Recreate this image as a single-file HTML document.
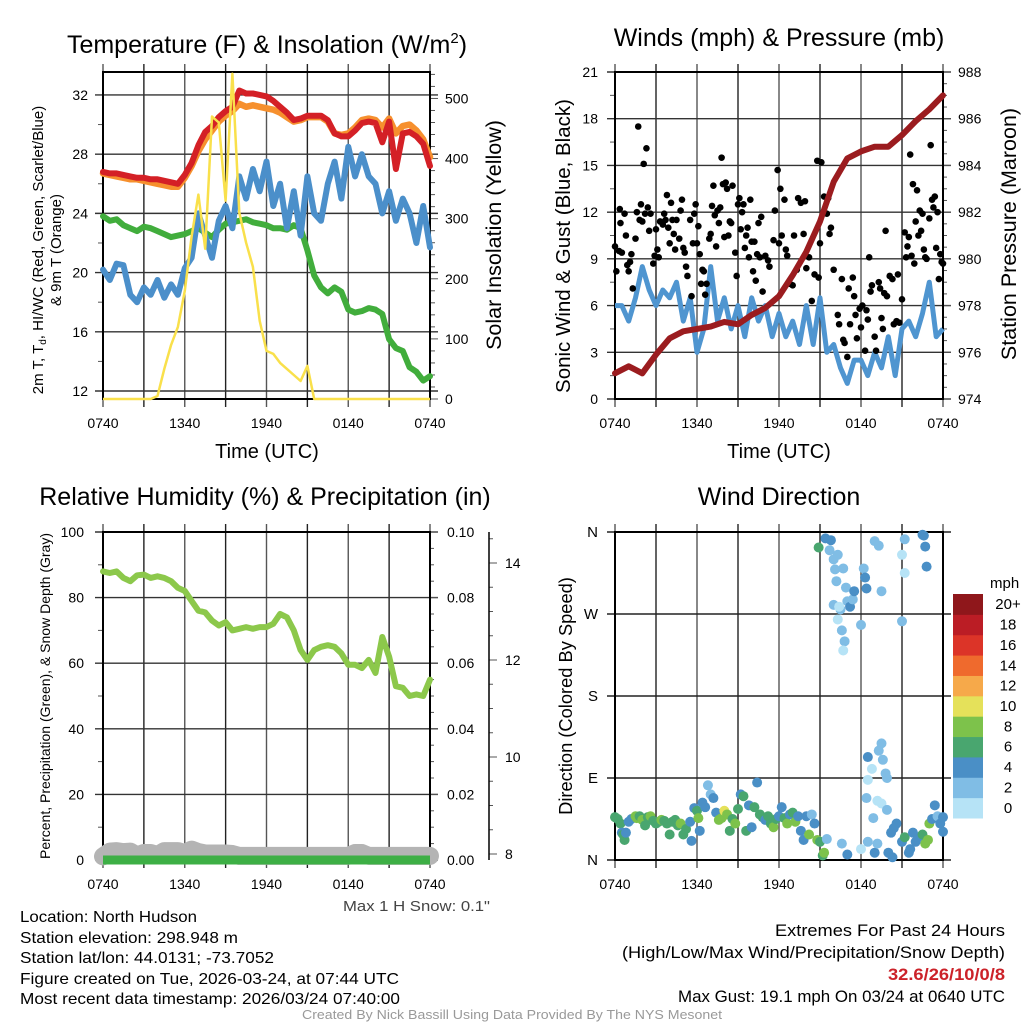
<!DOCTYPE html>
<html><head><meta charset="utf-8">
<style>
html,body{margin:0;padding:0;background:#fff;}
svg{display:block;font-family:"Liberation Sans",sans-serif;}
</style></head>
<body>
<svg id="chart" width="1024" height="1024" viewBox="0 0 1024 1024" xmlns="http://www.w3.org/2000/svg">
<rect x="0" y="0" width="1024" height="1024" fill="#fff"/>
<!-- titles -->
<text x="267" y="53" font-size="25" text-anchor="middle">Temperature (F) &amp; Insolation (W/m<tspan font-size="15" dy="-10">2</tspan><tspan dy="10">)</tspan></text>
<text x="779" y="46" font-size="25" text-anchor="middle">Winds (mph) &amp; Pressure (mb)</text>
<text x="265" y="505" font-size="25" text-anchor="middle">Relative Humidity (%) &amp; Precipitation (in)</text>
<text x="779" y="505" font-size="25" text-anchor="middle">Wind Direction</text>
<!-- x axis titles -->
<text x="267" y="458" font-size="20" text-anchor="middle">Time (UTC)</text>
<text x="779" y="458" font-size="20" text-anchor="middle">Time (UTC)</text>
<!-- y axis titles -->
<text transform="translate(43,250) rotate(-90)" font-size="15" text-anchor="middle">2m T, T<tspan font-size="10" dy="3">d</tspan><tspan dy="-3">, HI/WC (Red, Green, Scarlet/Blue)</tspan></text>
<text transform="translate(61,250) rotate(-90)" font-size="15" text-anchor="middle">&amp; 9m T (Orange)</text>
<text transform="translate(501,235) rotate(-90)" font-size="21.5" text-anchor="middle">Solar Insolation (Yellow)</text>
<text transform="translate(570,246) rotate(-90)" font-size="20.5" text-anchor="middle">Sonic Wind &amp; Gust (Blue, Black)</text>
<text transform="translate(1016,234) rotate(-90)" font-size="21.5" text-anchor="middle">Station Pressure (Maroon)</text>
<text transform="translate(50,696) rotate(-90)" font-size="14" text-anchor="middle">Percent, Precipitation (Green), &amp; Snow Depth (Gray)</text>
<text transform="translate(572,696) rotate(-90)" font-size="18.3" text-anchor="middle">Direction (Colored By Speed)</text>
<!-- footer -->
<text x="343" y="911" font-size="15" fill="#444" textLength="147" lengthAdjust="spacingAndGlyphs">Max 1 H Snow: 0.1"</text>
<g font-size="16">
<text x="20" y="922" textLength="177" lengthAdjust="spacingAndGlyphs">Location: North Hudson</text>
<text x="20" y="943" textLength="218" lengthAdjust="spacingAndGlyphs">Station elevation: 298.948 m</text>
<text x="20" y="963" textLength="254" lengthAdjust="spacingAndGlyphs">Station lat/lon: 44.0131; -73.7052</text>
<text x="20" y="984" textLength="379" lengthAdjust="spacingAndGlyphs">Figure created on Tue, 2026-03-24, at 07:44 UTC</text>
<text x="20" y="1004" textLength="380" lengthAdjust="spacingAndGlyphs">Most recent data timestamp: 2026/03/24 07:40:00</text>
</g>
<g font-size="17">
<text x="775" y="936" textLength="230" lengthAdjust="spacingAndGlyphs">Extremes For Past 24 Hours</text>
<text x="622" y="958" textLength="383" lengthAdjust="spacingAndGlyphs">(High/Low/Max Wind/Precipitation/Snow Depth)</text>
<text x="888" y="980" fill="#cc2229" font-weight="bold" textLength="117" lengthAdjust="spacingAndGlyphs">32.6/26/10/0/8</text>
<text x="678" y="1002" textLength="327" lengthAdjust="spacingAndGlyphs">Max Gust: 19.1 mph On 03/24 at 0640 UTC</text>
</g>
<text x="302" y="1019" font-size="13" fill="#999" textLength="420" lengthAdjust="spacingAndGlyphs">Created By Nick Bassill Using Data Provided By The NYS Mesonet</text>
</svg>
<script>
// ---------- DATA ----------
const timeLabels = ["0740","1340","1940","0140","0740"];
// half-hourly (49 values) temperature series (F)
const tempRed = [26.8,26.7,26.7,26.6,26.5,26.4,26.4,26.3,26.3,26.2,26.1,26.0,26.6,27.4,28.6,29.5,29.9,30.5,30.9,31.2,32.3,32.1,32.1,32.0,31.9,31.6,31.2,30.8,30.3,30.4,30.6,30.6,30.6,30.3,29.4,29.2,29.2,29.6,30.1,30.2,30.1,28.8,30.2,27.0,29.4,29.5,29.2,28.7,27.2];
const tempOrange = [26.7,26.6,26.5,26.4,26.3,26.3,26.2,26.1,26.0,25.9,25.8,25.8,26.4,27.2,28.2,29.0,29.6,30.2,30.6,30.9,31.4,31.2,31.3,31.2,31.1,31.0,30.8,30.5,30.2,30.3,30.5,30.5,30.5,30.2,29.4,29.3,29.4,29.8,30.3,30.4,30.3,29.8,30.4,29.4,29.9,30.0,29.6,29.0,27.8];
const tempBlue = [20.2,19.5,20.6,20.5,18.5,18.0,19.0,18.5,19.5,18.3,19.2,18.5,20.3,21.0,24.0,22.5,21.0,23.5,24.5,23.0,26.5,25.0,27.0,25.5,27.5,24.5,26.0,23.0,25.5,22.5,26.5,24.0,23.5,26.0,27.5,25.0,28.5,26.5,28.0,26.5,26.0,24.0,25.5,23.5,25.0,24.0,22.0,24.5,21.7];
const tempGreen = [23.8,23.5,23.6,23.2,23.0,22.8,23.1,23.0,22.8,22.6,22.4,22.5,22.6,22.8,23.0,22.7,22.4,22.9,23.3,23.4,23.5,23.6,23.4,23.3,23.2,23.0,23.0,22.9,23.2,23.0,21.5,19.8,19.0,18.6,19.0,18.7,17.5,17.3,17.4,17.6,17.5,17.2,15.5,14.9,14.7,13.6,13.3,12.7,13.0];
const solar = [0,0,0,0,0,0,0,0,5,50,90,120,180,270,340,250,470,460,330,541,310,260,220,130,80,75,60,50,40,30,55,0,0,0,0,0,0,0,0,0,0,0,0,0,0,0,0,0,0];
// winds
const windSpeed = [6.0,6.0,5.0,6.5,8.5,7.0,6.0,7.0,6.5,7.5,5.0,6.5,3.0,4.5,8.5,5.0,6.5,4.5,6.0,4.0,6.5,5.0,6.0,4.0,5.5,4.0,5.0,3.5,6.0,3.5,6.5,3.0,3.5,2.0,1.0,2.5,2.5,1.5,3.0,2.0,4.0,1.5,4.5,5.0,4.0,5.5,7.5,4.0,4.5];
const pressure = [975.1,975.4,975.1,975.9,976.6,976.9,977.0,977.1,977.3,977.2,977.6,977.9,978.4,979.3,980.3,981.6,983.3,984.3,984.6,984.8,984.8,985.3,985.9,986.4,987.0];
const gustTimes = [0,0.1,0.3,0.35,0.4,0.5,0.7,0.8,0.9,1.0,1.1,1.2,1.3,1.5,1.6,1.7,1.8,1.9,2.0,2.1,2.2,2.3,2.4,2.5,2.6,2.8,2.9,3.0,3.1,3.2,3.3,3.5,3.6,3.7,3.8,3.9,4.0,4.1,4.2,4.3,4.4,4.5,4.7,4.8,4.9,5.0,5.1,5.2,5.3,5.5,5.6,5.7,5.8,5.9,6.0,6.1,6.2,6.3,6.4,6.5,6.6,6.7,6.9,7.0,7.1,7.2,7.3,7.4,7.5,7.6,7.7,7.8,7.9,8.0,8.1,8.2,8.3,8.4,8.5,8.6,8.8,8.9,9.0,9.1,9.2,9.3,9.4,9.5,9.6,9.7,9.8,9.9,10.0,10.1,10.2,10.3,10.4,10.5,10.6,10.7,10.8,11.0,11.2,11.3,11.6,11.7,11.9,12.0,12.1,12.2,12.4,12.5,12.6,12.8,13.0,13.1,13.3,13.4,13.6,13.8,13.9,14.0,14.2,14.4,14.6,14.8,14.9,15.0,15.1,15.3,15.5,15.6,15.7,15.8,16.0,16.3,16.4,16.6,16.7,16.8,17.0,17.1,17.2,17.4,17.5,17.6,17.7,17.9,18.0,18.1,18.3,18.4,18.5,18.6,18.7,18.8,19.0,19.1,19.3,19.4,19.5,19.6,19.7,19.8,19.9,20.1,20.3,20.4,20.6,20.7,20.8,21.0,21.2,21.3,21.4,21.5,21.6,21.7,21.8,21.9,22.0,22.1,22.2,22.3,22.4,22.5,22.6,22.7,22.8,23.0,23.1,23.2,23.3,23.4,23.5,23.6,23.7,23.8,23.9,24.0];
const gustValues = [9.8,8.2,9.5,12.2,11.3,9.4,11.9,10.5,8.6,8.2,8.8,9.3,7.1,10.3,12.0,17.5,11.5,12.5,11.4,15.1,11.9,16.1,12.3,10.8,11.9,8.7,9.2,10.9,9.6,9.1,11.4,11.2,11.9,11.5,13.1,11.0,10.0,12.6,11.5,10.6,9.6,11.5,10.3,12.1,12.8,9.7,9.4,8.5,7.9,11.5,6.6,10.0,11.9,12.5,10.0,11.1,9.3,7.4,8.3,8.2,6.7,7.4,10.3,10.6,12.4,13.7,11.8,9.8,12.1,11.3,12.3,15.5,13.8,10.4,13.9,13.5,10.5,11.4,11.3,13.7,9.4,7.9,12.5,12.9,10.9,12.0,12.5,9.7,10.5,11.0,9.1,12.8,10.1,8.2,10.1,7.6,9.3,11.3,9.1,11.7,6.9,9.2,8.9,8.5,10.2,12.1,14.7,10.0,13.5,10.5,12.8,9.6,9.2,7.4,7.3,10.5,8.3,12.9,12.6,10.6,12.7,8.4,9.1,6.3,8.0,15.3,7.8,10.0,15.2,13.0,11.9,12.9,10.6,11.0,8.3,5.4,4.8,7.7,3.8,3.6,2.7,7.1,4.8,7.8,6.6,5.4,3.9,5.8,4.6,6.0,3.1,5.7,5.1,9.1,6.9,7.3,4.0,3.1,7.5,7.1,5.2,4.5,6.8,10.8,6.6,7.9,7.7,4.8,5.0,8.0,4.9,6.4,10.7,9.1,9.8,10.4,15.7,9.2,13.8,8.7,11.4,13.4,10.5,12.1,10.8,11.9,9.6,9.1,9.0,11.6,16.3,12.8,12.3,13.0,9.7,12.0,7.7,9.3,8.8,8.7];
// humidity / precip / snow
const humidity = [88.0,87.5,88.0,86.0,85.0,86.8,87.0,86.0,86.5,86.0,85.0,83.0,82.0,79.0,76.0,75.5,73.0,71.5,72.5,70.0,70.5,71.0,70.5,71.0,71.0,72.0,75.0,74.0,70.0,64.0,61.0,64.0,65.0,65.5,65.0,63.0,59.5,59.5,58.5,61.0,57.0,68.0,62.0,53.0,52.5,50.0,50.5,50.0,55.0];
const precip = [0,0,0,0,0,0,0,0,0,0,0,0,0,0,0,0,0,0,0,0,0,0,0,0,0,0,0,0,0,0,0,0,0,0,0,0,0,0,0,0,0,0,0,0,0,0,0,0,0];
const snowDepth = [7.95,8.05,8.06,8.04,8.05,7.97,8.02,8.02,7.98,8.06,8.06,8.06,8.02,8.09,8.04,8.01,8.01,8.01,8.01,8.0,7.96,7.96,7.96,7.96,7.96,7.96,7.96,7.96,7.96,7.96,7.96,7.96,7.96,7.96,7.96,7.96,7.96,8.02,8.02,7.96,7.96,7.96,7.96,7.96,7.96,7.96,7.96,7.96,7.96];
// wind direction scatter
const dirTimes = [0,0.2,0.4,0.5,0.6,0.7,0.8,1.0,1.2,1.5,1.6,1.8,2.0,2.2,2.4,2.6,2.8,3.0,3.2,3.4,3.6,3.8,4.0,4.2,4.4,4.6,4.8,5.0,5.2,5.5,5.6,5.8,6.0,6.1,6.2,6.4,6.6,6.8,7.0,7.2,7.4,7.6,7.8,8.0,8.2,8.4,8.6,8.8,9.0,9.2,9.4,9.6,9.8,10.0,10.2,10.4,10.6,10.8,11.0,11.2,11.4,11.6,11.8,12.0,12.2,12.4,12.6,12.8,13.0,13.2,13.4,13.6,13.8,14.0,14.2,14.4,14.6,14.8,15.0,15.2,15.3,14.9,15.4,15.8,15.7,16.0,16.1,16.3,16.2,16.0,16.5,16.7,16.9,17.0,17.2,17.4,17.5,16.3,16.4,16.6,16.8,16.7,18.2,18.3,18.0,18.4,19.0,19.3,19.5,21.0,21.2,21.2,21.0,22.5,22.6,22.7,22.8,16.6,17.0,18.0,18.5,19.0,19.2,20.0,20.3,20.2,20.4,20.6,21.0,21.2,21.5,21.6,21.8,22.0,22.2,22.5,22.7,22.9,23.0,23.2,23.4,23.6,23.8,24.0,24.0,18.5,18.8,19.3,19.5,19.6,19.8,19.9,18.4,18.5,19.2,19.5,18.9,19.9,15.5];
const dirDegrees = [47,45,40,30,28,22,30,42,45,48,46,48,44,38,47,48,43,40,42,44,43,40,28,42,44,38,40,28,34,42,21,57,54,46,32,63,58,82,72,68,52,44,46,54,50,32,45,40,56,72,70,32,60,36,58,85,50,47,44,48,40,36,45,48,58,46,40,50,52,42,48,32,22,48,28,50,40,22,20,5,8,343,353,351,340,330,319,335,306,280,275,320,299,284,278,286,295,264,278,252,240,230,320,310,258,298,350,345,295,335,315,352,262,357,356,344,322,18,6,12,20,8,18,8,3,30,35,40,20,25,8,12,30,20,25,28,18,22,40,45,60,48,40,47,31,113,100,120,128,110,95,90,68,88,65,62,46,55,23];
const dirSpeeds = [6,6,6,4,6,6,4,4,4,8,8,6,8,6,6,8,6,6,6,8,6,6,6,6,6,6,8,6,6,4,4,4,6,8,4,4,4,2,2,4,4,8,8,10,8,6,6,8,6,4,6,6,4,4,6,4,6,6,4,6,6,8,6,4,4,6,8,4,6,8,4,4,4,4,8,2,4,8,6,6,8,6,4,4,2,2,2,2,2,2,2,2,2,2,4,2,4,0,0,2,2,0,2,4,2,4,2,2,2,0,0,2,2,4,4,4,4,2,4,0,2,4,2,4,4,4,4,4,4,6,4,4,4,4,4,6,8,8,8,4,4,2,4,4,4,4,0,2,2,2,2,2,2,0,0,0,2,2,2,4];
const speedBinLabels = ["0","2","4","6","8","10","12","14","16","18","20+"];
const speedBinColors = ["#b6e3f6","#80bde5","#4a8fc6","#49a66f","#7dc24b","#e5e15a","#f6a94a","#ef6a2d","#dc3428","#bb1d25","#8f171b"];

// ---------- HELPERS ----------
const NS = "http://www.w3.org/2000/svg";
const svg = document.getElementById("chart");
function mk(tag, attrs, parent){
  const e = document.createElementNS(NS, tag);
  for (const k in attrs) e.setAttribute(k, attrs[k]);
  (parent || svg).appendChild(e);
  return e;
}
function panelScales(x0,x1,y0,y1,vmin,vmax){
  return {
    x: t => x0 + t/24*(x1-x0),
    y: v => y1 - (v-vmin)/(vmax-vmin)*(y1-y0)
  };
}
function polyPoints(xs, ys){ return xs.map((x,i)=>x.toFixed(1)+","+ys[i].toFixed(1)).join(" "); }
function halfHours(n){ const a=[]; for(let i=0;i<n;i++) a.push(i*0.5); return a; }

function drawFrame(name,x0,x1,y0,y1){
  const g = mk("g",{});
  
  
  for(let k=0;k<=8;k++){
    const x = x0 + k/8*(x1-x0);
    const l = mk("line",{x1:x,y1:y0-8,x2:x,y2:y1+8,stroke:(k%2?"#222":"#555"),"stroke-width":1.4},g);
    
    
  }
  timeLabels.forEach((lab,i)=>{
    const t = mk("text",{x:x0+i/4*(x1-x0),y:y1+29,"font-size":14,"text-anchor":"middle"},g);
    t.textContent = lab;
    
    
  });
  return g;
}
function hgrid(g,name,x0,x1,y,color){
  const l = mk("line",{x1:x0-8,y1:y,x2:x1+8,y2:y,stroke:color,"stroke-width":1.4},g);
  
  
}
function tickLabel(g,name,x,y,txt,anchor,size){
  const t = mk("text",{x:x,y:y+5,"font-size":size||14,"text-anchor":anchor},g);
  t.textContent = txt;
  
  
}
function minorTick(g,x,y,dx){
  const l = mk("line",{x1:x,y1:y,x2:x+dx,y2:y,stroke:"#555","stroke-width":1},g);
  
  
}
function box(g,name,x0,x1,y0,y1){
  const r = mk("rect",{x:x0,y:y0,width:x1-x0,height:y1-y0,fill:"none",stroke:"#000","stroke-width":2},g);
  
  
}

// ---------- PANEL 1: temperature ----------
(function(){
  const x0=103,x1=430,y0=72,y1=399;
  const s = panelScales(x0,x1,y0,y1,11.46,33.55);
  const ys = v => y1 - v/544*(y1-y0);
  const g = drawFrame("temp",x0,x1,y0,y1);
  for(let v=12; v<=32; v+=4){ hgrid(g,"temp",x0,x1,s.y(v),"#333"); tickLabel(g,"temp-y-tick-label",88,s.y(v),String(v),"end"); }
  for(let v=14; v<=32; v+=4) minorTick(g,x0-5,s.y(v),5);
  for(let v=0; v<=500; v+=100){ tickLabel(g,"insolation-tick-label",445,ys(v),String(v),"start"); }
  for(let v=0; v<=540; v+=20) minorTick(g,x1,ys(v), v%100===0?8:5);
  const tt = halfHours(tempBlue.length);
  const series = [["tempOrange-line",tempOrange,"#f6902e",6.5],["tempRed-line",tempRed,"#d42026",6],["tempGreen-line",tempGreen,"#41ad3c",6],["tempBlue-line",tempBlue,"#4b8fca",6]];
  series.forEach(sr=>{
    const vals = sr[1];
    const tx = vals.map((v,i)=>s.x(i*24/(vals.length-1)));
    const p = mk("polyline",{points:polyPoints(tx, vals.map(s.y)),fill:"none",stroke:sr[2],"stroke-width":sr[3],"stroke-linejoin":"round","stroke-linecap":"round"});
    
    
  });
  const ps = mk("polyline",{points:polyPoints(tt.map(s.x), solar.map(ys)),fill:"none",stroke:"#f9e04b","stroke-width":2.5,"stroke-linejoin":"round"});
  
  
  box(g,"temp",x0,x1,y0,y1);
})();

// ---------- PANEL 2: winds ----------
(function(){
  const x0=615,x1=943,y0=72,y1=399;
  const s = panelScales(x0,x1,y0,y1,0,21);
  const yp = v => y1 - (v-974)/14*(y1-y0);
  const g = drawFrame("wind",x0,x1,y0,y1);
  for(let v=0; v<=21; v+=3){ hgrid(g,"wind",x0,x1,s.y(v),"#333"); tickLabel(g,"wind-y-tick-label",598,s.y(v),String(v),"end"); }
  for(let v=1.5; v<21; v+=3) minorTick(g,x0-5,s.y(v),5);
  for(let v=974; v<=988; v+=2) tickLabel(g,"pressure-tick-label",958,yp(v),String(v),"start");
  for(let v=974; v<=988; v+=0.5) minorTick(g,x1,yp(v), v%2===0?8:4);
  const tt = halfHours(windSpeed.length);
  const pw = mk("polyline",{points:polyPoints(tt.map(s.x), windSpeed.map(s.y)),fill:"none",stroke:"#4f95d0","stroke-width":5,"stroke-linejoin":"round"});
  
  
  gustTimes.forEach((t,i)=>{
    const c = mk("circle",{cx:s.x(t),cy:s.y(gustValues[i]),r:3.3,fill:"#000"});
    
    
  });
  const tp = pressure.map((v,i)=>s.x(i));
  const pp = mk("polyline",{points:polyPoints(tp, pressure.map(yp)),fill:"none",stroke:"#9b1c1f","stroke-width":6,"stroke-linejoin":"round","stroke-linecap":"round"});
  
  
  box(g,"wind",x0,x1,y0,y1);
})();

// ---------- PANEL 3: humidity ----------
(function(){
  const x0=103,x1=430,y0=532,y1=860;
  const s = panelScales(x0,x1,y0,y1,0,100);
  const yq = v => y1 - v/0.1*(y1-y0);
  const ysn = v => 854 - (v-8)*48.5;
  const g = drawFrame("rh",x0,x1,y0,y1);
  for(let v=0; v<=100; v+=20){ hgrid(g,"rh",x0,x1,s.y(v),"#333"); tickLabel(g,"rh-y-tick-label",84,s.y(v),String(v),"end"); }
  for(let v=10; v<100; v+=20) minorTick(g,x0-5,s.y(v),5);
  for(let v=0; v<=10; v+=2) tickLabel(g,"precip-tick-label",447,yq(v/100),(v/100).toFixed(2),"start");
  for(let v=0; v<=100; v+=5) minorTick(g,x1,yq(v/1000), v%20===0?8:4);
  const ax = mk("line",{x1:489,y1:y0,x2:489,y2:y1,stroke:"#000","stroke-width":1.5});
  
  
  for(let v=8; v<=14; v+=2){ tickLabel(g,"snow-tick-label",505,ysn(v),String(v),"start"); }
  for(let v=8; v<=14.6; v+=0.5) minorTick(g,489,ysn(v), v%2===0?8:4);
  const tt = halfHours(snowDepth.length);
  const psn = mk("polyline",{points:polyPoints(tt.map(s.x), snowDepth.map(ysn)),fill:"none",stroke:"#b4b4b4","stroke-width":18,"stroke-linejoin":"round","stroke-linecap":"round"});
  
  
  const pq = mk("polyline",{points:polyPoints(tt.map(s.x), precip.map(yq)),fill:"none",stroke:"#3daf45","stroke-width":9,"stroke-linecap":"butt"});
  
  
  const ph = mk("polyline",{points:polyPoints(tt.map(s.x), humidity.map(s.y)),fill:"none",stroke:"#8cc84b","stroke-width":6,"stroke-linejoin":"round","stroke-linecap":"round"});
  
  
  box(g,"rh",x0,x1,y0,y1);
})();

// ---------- PANEL 4: wind direction ----------
(function(){
  const x0=615,x1=943,y0=532,y1=860;
  const s = panelScales(x0,x1,y0,y1,0,360);
  const g = drawFrame("dir",x0,x1,y0,y1);
  const dirLabels = ["N","E","S","W","N"];
  dirLabels.forEach((lab,i)=>{ hgrid(g,"dir",x0,x1,s.y(i*90),"#222"); tickLabel(g,"dir-y-tick-label",598,s.y(i*90),lab,"end",15); });
  dirTimes.forEach((t,i)=>{
    const bin = Math.min(10, Math.floor(dirSpeeds[i]/2));
    const c = mk("circle",{cx:s.x(t),cy:s.y(dirDegrees[i]),r:5,fill:speedBinColors[bin]});
    
    
  });
  box(g,"dir",x0,x1,y0,y1);
  const lg = mk("g",{});
  
  
  const cbTop=594, cbH=224/11;
  const mph = mk("text",{x:990,y:588,"font-size":15},lg);
  mph.textContent = "mph";
  
  
  speedBinLabels.forEach((lab,i)=>{
    const k = 10-i;
    const r = mk("rect",{x:953,y:cbTop+k*cbH,width:30,height:cbH+0.5,fill:speedBinColors[i]},lg);
    
    
    const t = mk("text",{x:1008,y:cbTop+k*cbH+cbH/2+5,"font-size":15,"text-anchor":"middle"},lg);
    t.textContent = lab;
    
    
  });
})();
</script>
</body></html>
